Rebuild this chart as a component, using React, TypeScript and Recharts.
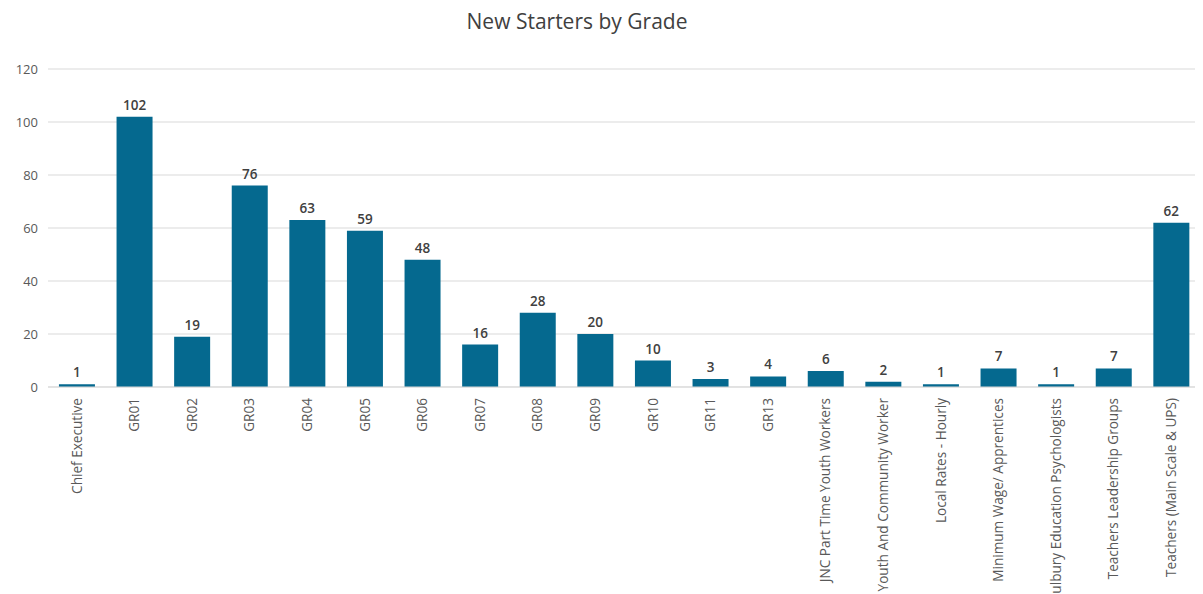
import React from 'react';
import { BarChart, Bar, XAxis, YAxis, CartesianGrid, LabelList } from 'recharts';

const grades = [
  'Chief Executive',
  'GR01',
  'GR02',
  'GR03',
  'GR04',
  'GR05',
  'GR06',
  'GR07',
  'GR08',
  'GR09',
  'GR10',
  'GR11',
  'GR13',
  'JNC Part Time Youth Workers',
  'Youth And Community Worker',
  'Local Rates - Hourly',
  'Minimum Wage/ Apprentices',
  'Sulbury Education Psychologists',
  'Teachers Leadership Groups',
  'Teachers (Main Scale & UPS)',
];

const starters = [1, 102, 19, 76, 63, 59, 48, 16, 28, 20, 10, 3, 4, 6, 2, 1, 7, 1, 7, 62];

const yTicks = [0, 20, 40, 60, 80, 100, 120];

const FONT = '"Open Sans", "Liberation Sans", sans-serif';
const BAR_COLOR = '#05698f';

const data = grades.map((grade, i) => ({ grade, starters: starters[i] }));

function GradeTick({ x, y, payload }: any) {
  return (
    <g transform={`translate(${x},${y})`}>
      <text
        transform="rotate(-90)"
        x={-3}
        y={0}
        dy="0.35em"
        textAnchor="end"
        fill="#595959"
        fontSize={13.6}
        fontFamily={FONT}
      >
        {payload.value}
      </text>
    </g>
  );
}

export default function App() {
  return (
    <div style={{ position: 'relative', width: 1195, height: 586, fontFamily: FONT }}>
      <div
        style={{
          position: 'absolute',
          top: 3,
          left: 0,
          width: 1138,
          textAlign: 'center',
          fontSize: 21,
          lineHeight: 1,
          color: '#404040',
        }}
      >
        New Starters by Grade
      </div>
      <BarChart
        width={1195}
        height={586}
        data={data}
        margin={{ top: 61, right: 3, left: 0, bottom: 0 }}
        barCategoryGap="19%"
      >
        <CartesianGrid vertical={false} stroke="#d9d9d9" />
        <XAxis
          dataKey="grade"
          interval={0}
          height={207}
          tick={<GradeTick />}
          tickLine={false}
          axisLine={{ stroke: '#d9d9d9' }}
        />
        <YAxis
          width={40}
          domain={[0, 120]}
          ticks={yTicks}
          tickLine={false}
          axisLine={false}
          tick={{ fill: '#595959', fontSize: 13, fontFamily: FONT }}
          tickMargin={4}
        />
        <Bar dataKey="starters" fill={BAR_COLOR} isAnimationActive={false}>
          <LabelList
            dataKey="starters"
            position="top"
            offset={7}
            fill="#404040"
            fontSize={13.5}
            fontWeight={600}
            fontFamily={FONT}
          />
        </Bar>
      </BarChart>
    </div>
  );
}
